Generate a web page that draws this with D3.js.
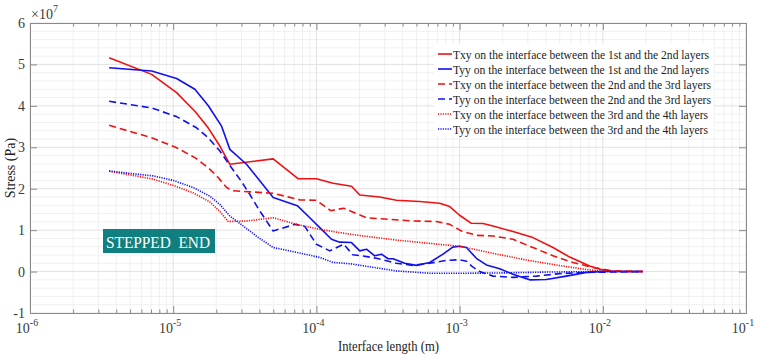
<!DOCTYPE html>
<html><head><meta charset="utf-8">
<script src="https://cdn.jsdelivr.net/npm/d3@7"></script>
<style>
html,body{margin:0;padding:0;background:#fff;}
</style></head>
<body><svg id="c" width="763" height="354" font-family="'Liberation Serif', 'Times New Roman', 'DejaVu Serif', serif"></svg>
<script>
// values in units of 1e7 Pa, x in metres
const txy12 = [[3.57e-6,5.16],[7.07e-6,4.76],[1.056e-5,4.32],[1.417e-5,3.87],[1.754e-5,3.47],[2.118e-5,3.03],[2.487e-5,2.59],[4.99e-5,2.72],[7.48e-5,2.24],[1.0e-4,2.24],[1.308e-4,2.13],[1.758e-4,2.06],[2.009e-4,1.85],[2.77e-4,1.80],[3.62e-4,1.72],[5.27e-4,1.69],[7.26e-4,1.65],[8.53e-4,1.57],[1.0e-3,1.36],[1.209e-3,1.165],[1.457e-3,1.16],[1.71e-3,1.10],[2.36e-3,0.965],[3.25e-3,0.82],[4.49e-3,0.58],[5.87e-3,0.35],[8.09e-3,0.135],[1.0e-2,0.04],[1.176e-2,0.007],[1.905e-2,0]];
const tyy12 = [[3.57e-6,4.92],[7.07e-6,4.84],[1.056e-5,4.66],[1.417e-5,4.40],[1.754e-5,4.01],[2.177e-5,3.51],[2.487e-5,2.95],[3.25e-5,2.59],[4.99e-5,1.79],[7.36e-5,1.59],[8.99e-5,1.30],[1.056e-4,1.06],[1.274e-4,0.78],[1.457e-4,0.71],[1.758e-4,0.70],[2.009e-4,0.50],[2.237e-4,0.54],[2.555e-4,0.38],[2.846e-4,0.42],[3.165e-4,0.31],[3.43e-4,0.31],[4.14e-4,0.20],[4.995e-4,0.15],[6.18e-4,0.22],[7.66e-4,0.42],[8.95e-4,0.59],[1.0e-3,0.61],[1.116e-3,0.58],[1.31e-3,0.32],[1.538e-3,0.16],[1.905e-3,0.07],[2.36e-3,-0.065],[3.08e-3,-0.20],[4.03e-3,-0.19],[5.56e-3,-0.11],[7.67e-3,-0.02],[1.0e-2,0],[1.905e-2,0]];
const txy23 = [[3.57e-6,3.53],[7.07e-6,3.23],[1.056e-5,2.99],[1.417e-5,2.75],[1.754e-5,2.51],[2.061e-5,2.27],[2.359e-5,2.03],[2.623e-5,1.95],[4.99e-5,1.89],[7.66e-5,1.73],[1.0e-4,1.72],[1.26e-4,1.47],[1.553e-4,1.53],[2.237e-4,1.30],[3.253e-4,1.26],[4.73e-4,1.22],[6.89e-4,1.21],[8.53e-4,1.14],[1.03e-3,0.98],[1.31e-3,0.875],[1.71e-3,0.86],[2.36e-3,0.78],[3.25e-3,0.58],[4.49e-3,0.38],[6.19e-3,0.22],[8.53e-3,0.10],[1.176e-2,0.015],[1.905e-2,0]];
const tyy23 = [[3.57e-6,4.11],[7.07e-6,3.95],[1.056e-5,3.74],[1.457e-5,3.47],[1.754e-5,3.23],[2.118e-5,2.91],[2.487e-5,2.56],[2.99e-5,2.18],[3.43e-5,1.86],[3.96e-5,1.50],[4.99e-5,0.98],[7.07e-5,1.14],[8.30e-5,1.09],[1.0e-4,0.66],[1.24e-4,0.50],[1.553e-4,0.66],[1.795e-4,0.405],[2.118e-4,0.376],[2.627e-4,0.32],[3.62e-4,0.20],[4.73e-4,0.15],[6.18e-4,0.20],[8.09e-4,0.27],[1.0e-3,0.285],[1.12e-3,0.25],[1.215e-3,0.13],[1.381e-3,0],[1.71e-3,-0.11],[2.36e-3,-0.14],[3.435e-3,-0.11],[4.99e-3,-0.05],[7.67e-3,-0.02],[1.905e-2,0]];
const txy34 = [[3.57e-6,2.42],[5.26e-6,2.32],[7.25e-6,2.23],[1.0e-5,2.08],[1.379e-5,1.90],[1.804e-5,1.68],[2.118e-5,1.45],[2.42e-5,1.21],[3.25e-5,1.22],[4.99e-5,1.30],[7.07e-5,1.15],[1.056e-4,1.02],[1.457e-4,0.94],[2.118e-4,0.86],[3.62e-4,0.76],[6.18e-4,0.68],[1.0e-3,0.61],[1.71e-3,0.44],[2.925e-3,0.28],[4.99e-3,0.145],[7.67e-3,0.05],[1.0e-2,0.01],[1.905e-2,0]];
const tyy34 = [[3.57e-6,2.43],[5.26e-6,2.36],[7.25e-6,2.31],[1.0e-5,2.20],[1.379e-5,2.03],[1.804e-5,1.82],[2.118e-5,1.62],[2.487e-5,1.34],[3.165e-5,1.07],[3.90e-5,0.83],[4.99e-5,0.58],[7.26e-5,0.465],[1.056e-4,0.34],[1.308e-4,0.22],[1.71e-4,0.19],[2.36e-4,0.115],[3.62e-4,0.015],[6.18e-4,-0.04],[1.0e-3,-0.04],[1.806e-3,-0.035],[4.03e-3,-0.012],[1.0e-2,0],[1.905e-2,0]];

const seriesNames = [
  "Txy on the interface between the 1st and the 2nd layers",
  "Tyy on the interface between the 1st and the 2nd layers",
  "Txy on the interface between the 2nd and the 3rd layers",
  "Tyy on the interface between the 2nd and the 3rd layers",
  "Txy on the interface between the 3rd and the 4th layers",
  "Tyy on the interface between the 3rd and the 4th layers"
];
const legendWidths = [256, 256, 258, 258, 255, 255];
const xTickExps = [-6,-5,-4,-3,-2,-1];
const yTicks = [-1,0,1,2,3,4,5,6];

const RED = "#f01010", BLUE = "#1010f0";
const series = [
  {data: txy12, color: RED,  dash: null},
  {data: tyy12, color: BLUE, dash: null},
  {data: txy23, color: RED,  dash: "7,4"},
  {data: tyy23, color: BLUE, dash: "7,4"},
  {data: txy34, color: RED,  dash: "1.2,1.2"},
  {data: tyy34, color: BLUE, dash: "1.2,1.2"}
];

const FONT = "'Liberation Serif', 'Times New Roman', 'DejaVu Serif', serif";
const L = 30, R = 746, T = 23, B = 313;
const svg = d3.select("#c");
const x = d3.scaleLog().domain([1e-6, 1e-1]).range([L, R]);
const y = d3.scaleLinear().domain([-1, 6]).range([B, T]);

const majorX = xTickExps.map(e => Math.pow(10, e));
const minorX = [];
for (let e = -6; e < -1; e++) for (let k = 2; k <= 9; k++) minorX.push(k * Math.pow(10, e));
const minorY = [];
for (let v = -1; v < 6; v++) for (let k = 1; k <= 4; k++) minorY.push(+(v + k * 0.2).toFixed(1));

// grid
const g = svg.append("g");
g.selectAll(".mx").data(minorX).join("line")
  .attr("x1", d => x(d)).attr("x2", d => x(d)).attr("y1", T).attr("y2", B)
  .attr("stroke", "#f0f0f0").attr("stroke-width", 1);
g.selectAll(".my").data(minorY).join("line")
  .attr("x1", L).attr("x2", R).attr("y1", d => y(d)).attr("y2", d => y(d))
  .attr("stroke", "#f0f0f0").attr("stroke-width", 1);
g.selectAll(".Mx").data(majorX).join("line")
  .attr("x1", d => x(d)).attr("x2", d => x(d)).attr("y1", T).attr("y2", B)
  .attr("stroke", "#e2e2e2").attr("stroke-width", 1);
g.selectAll(".My").data(yTicks).join("line")
  .attr("x1", L).attr("x2", R).attr("y1", d => y(d)).attr("y2", d => y(d))
  .attr("stroke", "#e2e2e2").attr("stroke-width", 1);

// curves
const line = d3.line().x(d => x(d[0])).y(d => y(d[1]));
series.forEach(s => {
  svg.append("path").attr("d", line(s.data)).attr("fill", "none")
    .attr("stroke", s.color).attr("stroke-width", 1.6)
    .attr("stroke-dasharray", s.dash).attr("stroke-linejoin", "round");
});

// axes
const AX = "#8a8a8a";
function styleAxis(sel) {
  sel.select(".domain").attr("stroke", AX);
  sel.selectAll(".tick line").attr("stroke", AX);
  sel.selectAll("text").remove();
}
svg.append("g").attr("transform", `translate(0,${B})`)
  .call(d3.axisBottom(x).tickValues(majorX).tickSize(-7).tickSizeOuter(0)).call(styleAxis);
svg.append("g").attr("transform", `translate(0,${B})`)
  .call(d3.axisBottom(x).tickValues(minorX).tickSize(-3.5).tickSizeOuter(0)).call(styleAxis);
svg.append("g").attr("transform", `translate(0,${T})`)
  .call(d3.axisTop(x).tickValues(majorX).tickSize(-7).tickSizeOuter(0)).call(styleAxis);
svg.append("g").attr("transform", `translate(0,${T})`)
  .call(d3.axisTop(x).tickValues(minorX).tickSize(-3.5).tickSizeOuter(0)).call(styleAxis);
svg.append("g").attr("transform", `translate(${L},0)`)
  .call(d3.axisLeft(y).tickValues(yTicks).tickSize(-7).tickSizeOuter(0)).call(styleAxis);
svg.append("g").attr("transform", `translate(${R},0)`)
  .call(d3.axisRight(y).tickValues(yTicks).tickSize(-7).tickSizeOuter(0)).call(styleAxis);

const TXT = "#3a3a3a";
// y tick labels
svg.selectAll(".yl").data(yTicks).join("text")
  .attr("x", L - 5).attr("y", d => y(d) + 5).attr("text-anchor", "end")
  .attr("font-family", FONT).attr("font-size", 14).attr("fill", TXT).text(d => d);
// x tick labels
xTickExps.forEach(e => {
  const t = svg.append("text").attr("x", x(Math.pow(10, e)) - 3).attr("y", 333)
    .attr("text-anchor", "middle").attr("font-family", FONT).attr("font-size", 14).attr("fill", TXT);
  t.append("tspan").text("10");
  t.append("tspan").attr("dy", -7).attr("font-size", 10).text("-" + (-e));
});
// exponent
const ex = svg.append("text").attr("x", 31).attr("y", 19).attr("font-family", FONT).attr("font-size", 14).attr("fill", TXT);
ex.append("tspan").text("\u00d710");
ex.append("tspan").attr("dy", -7).attr("font-size", 10).text("7");

// axis titles
svg.append("text").attr("x", 338).attr("y", 351)
  .attr("textLength", 101).attr("lengthAdjust", "spacingAndGlyphs")
  .attr("font-family", FONT).attr("font-size", 14).attr("fill", "#222").text("Interface length (m)");
svg.append("text").attr("transform", `translate(15,${(T + B) / 2}) rotate(-90)`)
  .attr("text-anchor", "middle").attr("font-family", FONT).attr("font-size", 14).attr("fill", "#222").text("Stress (Pa)");

// legend
svg.append("rect").attr("x", 434).attr("y", 44).attr("width", 280).attr("height", 92).attr("fill", "#fff");
series.forEach((s, i) => {
  const yy = 54 + i * 15;
  svg.append("line").attr("x1", 438).attr("x2", 452).attr("y1", yy).attr("y2", yy)
    .attr("stroke", s.color).attr("stroke-width", 1.6).attr("stroke-dasharray", s.dash);
  svg.append("text").attr("x", 453).attr("y", yy + 4.5).attr("font-family", FONT).attr("font-size", 13).attr("fill", "#222")
    .attr("textLength", legendWidths[i]).attr("lengthAdjust", "spacingAndGlyphs")
    .text(seriesNames[i]);
});

// annotation
svg.append("rect").attr("x", 103).attr("y", 229).attr("width", 112).attr("height", 24).attr("fill", "#0f7f7f");
svg.append("text").attr("x", 106).attr("y", 247.5).attr("font-family", FONT).attr("font-size", 17)
  .attr("textLength", 104).attr("lengthAdjust", "spacingAndGlyphs")
  .attr("fill", "#fff").style("white-space", "pre").text("STEPPED  END");
</script></body></html>
